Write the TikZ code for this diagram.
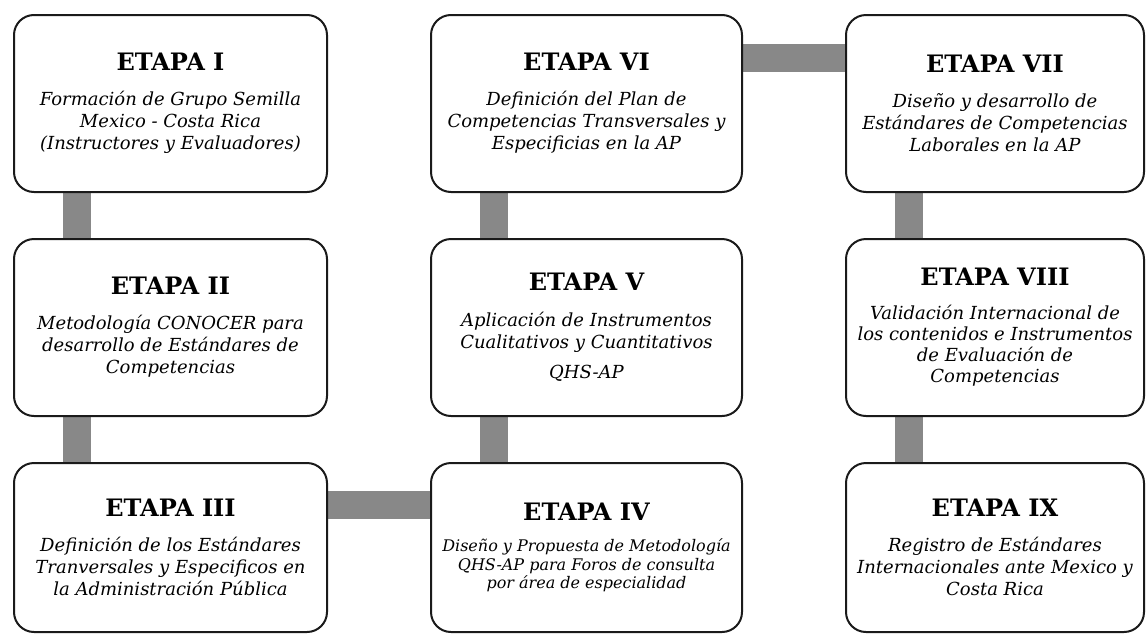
\documentclass[tikz,border=0pt]{standalone}
\usepackage{fontspec}
\setmainfont{DejaVu Serif}
\usetikzlibrary{backgrounds, calc}
\definecolor{barra}{HTML}{888888}
\definecolor{borde}{HTML}{1a1a1a}
\newcommand{\etapatit}[1]{{\upshape\bfseries\fontsize{24}{28}\selectfont #1}}

\begin{document}
\begin{tikzpicture}[x=1pt, y=-1pt,
    etapa/.style={draw=borde, line width=2pt, fill=white, rounded corners=20pt,
        align=center, font=\fontsize{18}{22}\selectfont\itshape},
    enlace/.style={barra, line width=28pt}]
    \useasboundingbox (0,0) rectangle (1147,635);

    % Column 1
    \node[etapa, minimum width=313pt, minimum height=177pt] (e1) at (170.5,103.5)
        {\etapatit{ETAPA I}\\[13pt]Formación de Grupo Semilla\\Mexico - Costa Rica\\(Instructores y Evaluadores)};
    \node[etapa, minimum width=313pt, minimum height=177pt] (e2) at (170.5,327.5)
        {\etapatit{ETAPA II}\\[13pt]Metodología CONOCER para\\desarrollo de Estándares de\\Competencias};
    \node[etapa, minimum width=313pt, minimum height=169pt] (e3) at (170.5,547.5)
        {\etapatit{ETAPA III}\\[13pt]Definición de los Estándares\\Tranversales y Especificos en\\la Administración Pública};

    % Column 2
    \node[etapa, minimum width=311pt, minimum height=169pt,
        font=\fontsize{16}{18.5}\selectfont\itshape] (e4) at (586.5,547.5)
        {\etapatit{ETAPA IV}\\[13pt]Diseño y Propuesta de Metodología\\QHS-AP para Foros de consulta\\por área de especialidad};
    \node[etapa, minimum width=311pt, minimum height=177pt] (e5) at (586.5,327.5)
        {\etapatit{ETAPA V}\\[14pt]Aplicación de Instrumentos\\Cualitativos y Cuantitativos\\[8pt]QHS-AP};
    \node[etapa, minimum width=311pt, minimum height=177pt] (e6) at (586.5,103.5)
        {\etapatit{ETAPA VI}\\[13pt]Definición del Plan de\\Competencias Transversales y\\Especificias en la AP};

    % Column 3
    \node[etapa, minimum width=298pt, minimum height=177pt] (e7) at (995,103.5)
        {\etapatit{ETAPA VII}\\[13pt]Diseño y desarrollo de\\Estándares de Competencias\\Laborales en la AP};
    \node[etapa, minimum width=298pt, minimum height=177pt,
        font=\fontsize{18}{21}\selectfont\itshape] (e8) at (995,327.5)
        {\etapatit{ETAPA VIII}\\[13pt]Validación Internacional de\\los contenidos e Instrumentos\\de Evaluación de\\Competencias};
    \node[etapa, minimum width=298pt, minimum height=169pt] (e9) at (995,547.5)
        {\etapatit{ETAPA IX}\\[13pt]Registro de Estándares\\Internacionales ante Mexico y\\Costa Rica};

    % Links
    \begin{scope}[on background layer]
        \draw[enlace] ([xshift=64pt]e1.south west) -- ([xshift=64pt]e2.north west);
        \draw[enlace] ([xshift=64pt]e2.south west) -- ([xshift=64pt]e3.north west);
        \draw[enlace] ([yshift=-43pt]e3.north east) -- ([yshift=-43pt]e4.north west);
        \draw[enlace] ([xshift=64pt]e4.north west) -- ([xshift=64pt]e5.south west);
        \draw[enlace] ([xshift=64pt]e5.north west) -- ([xshift=64pt]e6.south west);
        \draw[enlace] ([yshift=-44pt]e6.north east) -- ([yshift=-44pt]e7.north west);
        \draw[enlace] ([xshift=64pt]e7.south west) -- ([xshift=64pt]e8.north west);
        \draw[enlace] ([xshift=64pt]e8.south west) -- ([xshift=64pt]e9.north west);
    \end{scope}
\end{tikzpicture}
\end{document}
